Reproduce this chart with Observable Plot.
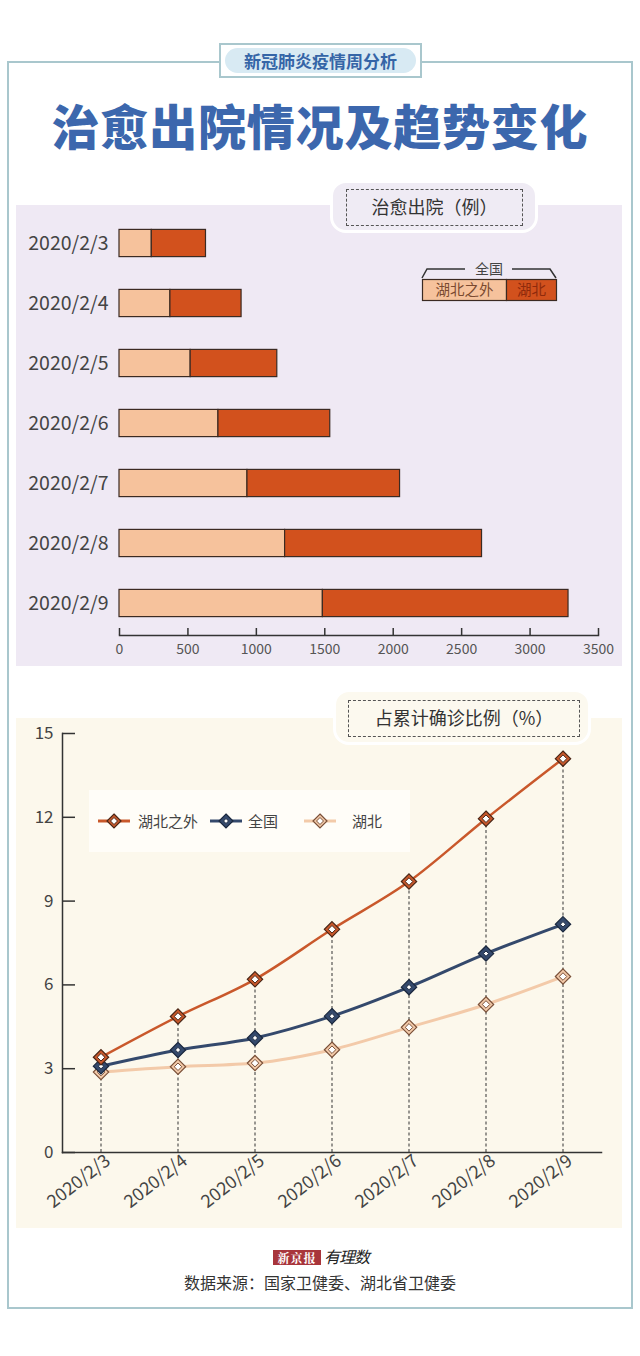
<!DOCTYPE html>
<html><head><meta charset="utf-8">
<script src="https://cdn.jsdelivr.net/npm/d3@7"></script>
<script src="https://cdn.jsdelivr.net/npm/@observablehq/plot@0.6"></script>
<style>
body{margin:0;background:#fff;}
#root{position:relative;width:640px;height:1356px;overflow:hidden;font-family:"Noto Sans CJK SC","Noto Sans",sans-serif;color:#333;background:#fff;}
.abs{position:absolute;box-sizing:border-box;}
#frame{left:7px;top:61px;width:626px;height:1248px;border:2px solid #a9c7cd;}
#badge{left:219px;top:43px;width:203px;height:35px;background:#fff;border:2px solid #a9c7cd;}
#badge .pill{position:absolute;left:4px;top:3px;right:4px;bottom:3px;border-radius:14px;background:#d8eaf3;color:#3565a7;font-weight:700;font-size:17px;line-height:25px;text-align:center;letter-spacing:0px;}
#title{left:0;top:92px;width:640px;text-align:center;font-size:48px;font-weight:900;color:#3c67ad;letter-spacing:0.8px;line-height:64px;}
#barPanel{left:16px;top:205px;width:606px;height:461px;background:#efe9f4;}
#linePanel{left:16px;top:718px;width:606px;height:510px;background:#fcf8ec;}
.tag{border-radius:16px;border:3px solid #fff;}
.tag .dash{position:absolute;border:1px dashed #555;font-size:18px;color:#333;text-align:center;}
#barTag{left:330px;top:180px;width:208px;height:53px;background:#efebf4;}
#barTag .dash{left:13px;top:6px;width:175px;height:35px;line-height:33px;}
#lineTag{left:333px;top:689px;width:258px;height:56px;background:#fcf9ef;}
#lineTag .dash{left:12px;top:8px;width:230px;height:35px;line-height:33px;}
#barPlot{left:0;top:205px;}
#linePlot{left:0;top:718px;}
#barLegend{left:415px;top:258px;width:150px;height:50px;}
#lineLegend{left:89px;top:790px;width:321px;height:62px;background:#fffdf8;}
#logo{left:273px;top:1246px;height:20px;width:110px;}
#logo .red{position:absolute;left:0;top:4px;width:48px;height:15px;background:#a8353b;color:#fff;font-family:"Noto Serif CJK SC","Noto Sans CJK SC",serif;font-weight:700;font-size:12px;line-height:15px;text-align:center;letter-spacing:1px;}
#logo .yls{position:absolute;left:51px;top:-2px;font-size:16px;font-style:italic;color:#222;letter-spacing:-1px;}
#source{left:0;top:1270px;width:640px;text-align:center;font-size:16px;color:#333;}
</style></head><body><div id="root">
<div class="abs" id="frame"></div>
<div class="abs" id="badge"><div class="pill">新冠肺炎疫情周分析</div></div>
<div class="abs" id="title">治愈出院情况及趋势变化</div>
<div class="abs" id="barPanel"></div>
<div class="abs tag" id="barTag"><div class="dash">治愈出院（例）</div></div>
<div class="abs" id="barPlot"></div>
<div class="abs" id="barLegend"></div>
<div class="abs" id="linePanel"></div>
<div class="abs tag" id="lineTag"><div class="dash">占累计确诊比例（%）</div></div>
<div class="abs" id="linePlot"></div>
<div class="abs" id="lineLegend"></div>
<div class="abs" id="logo"><div class="red">新京报</div><div class="yls">有理数</div></div>
<div class="abs" id="source">数据来源：国家卫健委、湖北省卫健委</div>
</div>
<script>
// ---------- data ----------
const dates = ["2020/2/3","2020/2/4","2020/2/5","2020/2/6","2020/2/7","2020/2/8","2020/2/9"];
const curedOutside = [236, 372, 520, 723, 935, 1210, 1486];
const curedHubei = [396, 520, 633, 817, 1115, 1439, 1795];
const barTicks = [0, 500, 1000, 1500, 2000, 2500, 3000, 3500];
const barGroups = ["湖北之外", "湖北"];
const barColors = ["#f6c29c", "#d2511d"];

const pctOutside = [3.41, 4.87, 6.2, 7.99, 9.7, 11.95, 14.1];
const pctNational = [3.09, 3.67, 4.1, 4.88, 5.92, 7.12, 8.17];
const pctHubei = [2.88, 3.07, 3.2, 3.68, 4.48, 5.3, 6.3];
const pctTicks = [0, 3, 6, 9, 12, 15];
const seriesNames = ["湖北之外", "全国", "湖北"];
const seriesColors = ["#c9582b", "#34496c", "#f3caa9"];
const seriesDark = ["#4a2616", "#1b283e", "#7a5038"];
const seriesWidths = [2.5, 3, 3];

const FONT = '"Noto Sans CJK SC","Noto Sans",sans-serif';

// ---------- bar chart ----------
const barRows = dates.flatMap((d, i) => [
  {date: d, group: barGroups[0], value: curedOutside[i]},
  {date: d, group: barGroups[1], value: curedHubei[i]}
]);
const barPlot = Plot.plot({
  width: 640, height: 461,
  marginTop: 5, marginBottom: 31, marginLeft: 119, marginRight: 42,
  style: {background: "transparent", fontFamily: FONT, color: "#444", overflow: "visible"},
  x: {domain: [0, 3500]},
  y: {domain: dates, padding: 0},
  color: {domain: barGroups, range: barColors},
  marks: [
    Plot.gridX(barTicks, {stroke: "#333", strokeOpacity: 1, strokeWidth: 1.5, insetTop: 418}),
    Plot.frame({anchor: "bottom", stroke: "#333", strokeWidth: 1.5}),
    Plot.axisX(barTicks, {tickSize: 0, tickPadding: 9, fontSize: 14, fill: "#555", label: null, tickFormat: d => String(d)}),
    Plot.axisY({tickSize: 0, tickPadding: 11, fontSize: 19.5, fill: "#444", label: null}),
    Plot.barX(barRows, Plot.stackX({x: "value", y: "date", fill: "group", order: barGroups,
      stroke: "#3b2a22", strokeWidth: 1.2, insetTop: 16.4, insetBottom: 16.4}))
  ]
});
document.getElementById("barPlot").appendChild(barPlot);

// bar legend (bracket + two boxes)
document.getElementById("barLegend").innerHTML = `
<svg width="150" height="50" style="font-family:${FONT}">
  <path d="M7,20 L12,11 L50,11 M97,11 L135,11 L141,20" fill="none" stroke="#333" stroke-width="1.5"/>
  <text x="74" y="16" text-anchor="middle" font-size="14" fill="#444">全国</text>
  <rect x="7.5" y="21.5" width="84" height="21" fill="${barColors[0]}" stroke="#3b2a22" stroke-width="1.2"/>
  <rect x="91.5" y="21.5" width="50" height="21" fill="${barColors[1]}" stroke="#3b2a22" stroke-width="1.2"/>
  <text x="49.5" y="37" text-anchor="middle" font-size="14.5" fill="#7a4a30">${barGroups[0]}</text>
  <text x="116.5" y="37" text-anchor="middle" font-size="14.5" fill="#8e2a0c">${barGroups[1]}</text>
</svg>`;

// ---------- line chart ----------
const seriesValues = [pctOutside, pctNational, pctHubei];
const lineRows = seriesNames.flatMap((s, k) => dates.map((d, i) => ({date: d, series: s, value: seriesValues[k][i]})));
const topRows = dates.map((d, i) => ({date: d, value: Math.max(pctOutside[i], pctNational[i], pctHubei[i])}));

const seriesMarks = [];
for (const k of [2, 1, 0]) {
  const rows = lineRows.filter(r => r.series === seriesNames[k]);
  seriesMarks.push(
    Plot.line(rows, {x: "date", y: "value", stroke: seriesColors[k], strokeWidth: seriesWidths[k], curve: "monotone-x"}),
    Plot.dot(rows, {x: "date", y: "value", symbol: "diamond2", r: 6.9, fill: seriesColors[k], stroke: seriesDark[k], strokeWidth: 1.2}),
    Plot.dot(rows, {x: "date", y: "value", symbol: "diamond2", r: k === 1 ? 2.4 : 3.4, fill: "#fff", stroke: seriesDark[k], strokeWidth: 1})
  );
}

const linePlot = Plot.plot({
  width: 640, height: 510,
  marginTop: 15, marginBottom: 76, marginLeft: 62, marginRight: 39,
  style: {background: "transparent", fontFamily: FONT, color: "#444", overflow: "visible"},
  x: {type: "band", domain: dates, padding: 0},
  y: {domain: [0, 15]},
  marks: [
    Plot.ruleX(topRows, {x: "date", y1: 0, y2: "value", stroke: "#333", strokeWidth: 1, strokeDasharray: "3,2.5"}),
    Plot.gridY(pctTicks, {stroke: "#333", strokeOpacity: 1, strokeWidth: 1.5, insetRight: 526}),
    Plot.frame({anchor: "left", stroke: "#333", strokeWidth: 1.5}),
    Plot.frame({anchor: "bottom", stroke: "#333", strokeWidth: 1.5}),
    Plot.axisY(pctTicks, {tickSize: 0, tickPadding: 9, fontSize: 17, fill: "#444", label: null}),
    Plot.axisX({tickSize: 0, tickPadding: 6, tickRotate: -38, fontSize: 18, fill: "#444", label: null, dx: 7}),
    ...seriesMarks
  ]
});
document.getElementById("linePlot").appendChild(linePlot);

// line legend
const legendItems = [
  {lx: 9, name: seriesNames[0], k: 0, tx: 49},
  {lx: 121, name: seriesNames[1], k: 1, tx: 159},
  {lx: 215, name: seriesNames[2], k: 2, tx: 263}
];
const dia = (cx, cy, h) => `M${cx},${cy - h}L${cx + h},${cy}L${cx},${cy + h}L${cx - h},${cy}Z`;
document.getElementById("lineLegend").innerHTML = `<svg width="321" height="62" style="font-family:${FONT}">` +
  legendItems.map(it => {
    const c = it.lx + 16;
    return `<line x1="${it.lx}" x2="${it.lx + 32}" y1="31" y2="31" stroke="${seriesColors[it.k]}" stroke-width="3"/>
    <path d="${dia(c, 31, 7)}" fill="${seriesColors[it.k]}" stroke="${seriesDark[it.k]}" stroke-width="1.2"/>
    <path d="${dia(c, 31, it.k === 1 ? 2.5 : 3.5)}" fill="#fff" stroke="${seriesDark[it.k]}" stroke-width="1"/>
    <text x="${it.tx}" y="36.5" font-size="15" fill="#444">${it.name}</text>`;
  }).join("") + `</svg>`;
</script>
</body></html>
